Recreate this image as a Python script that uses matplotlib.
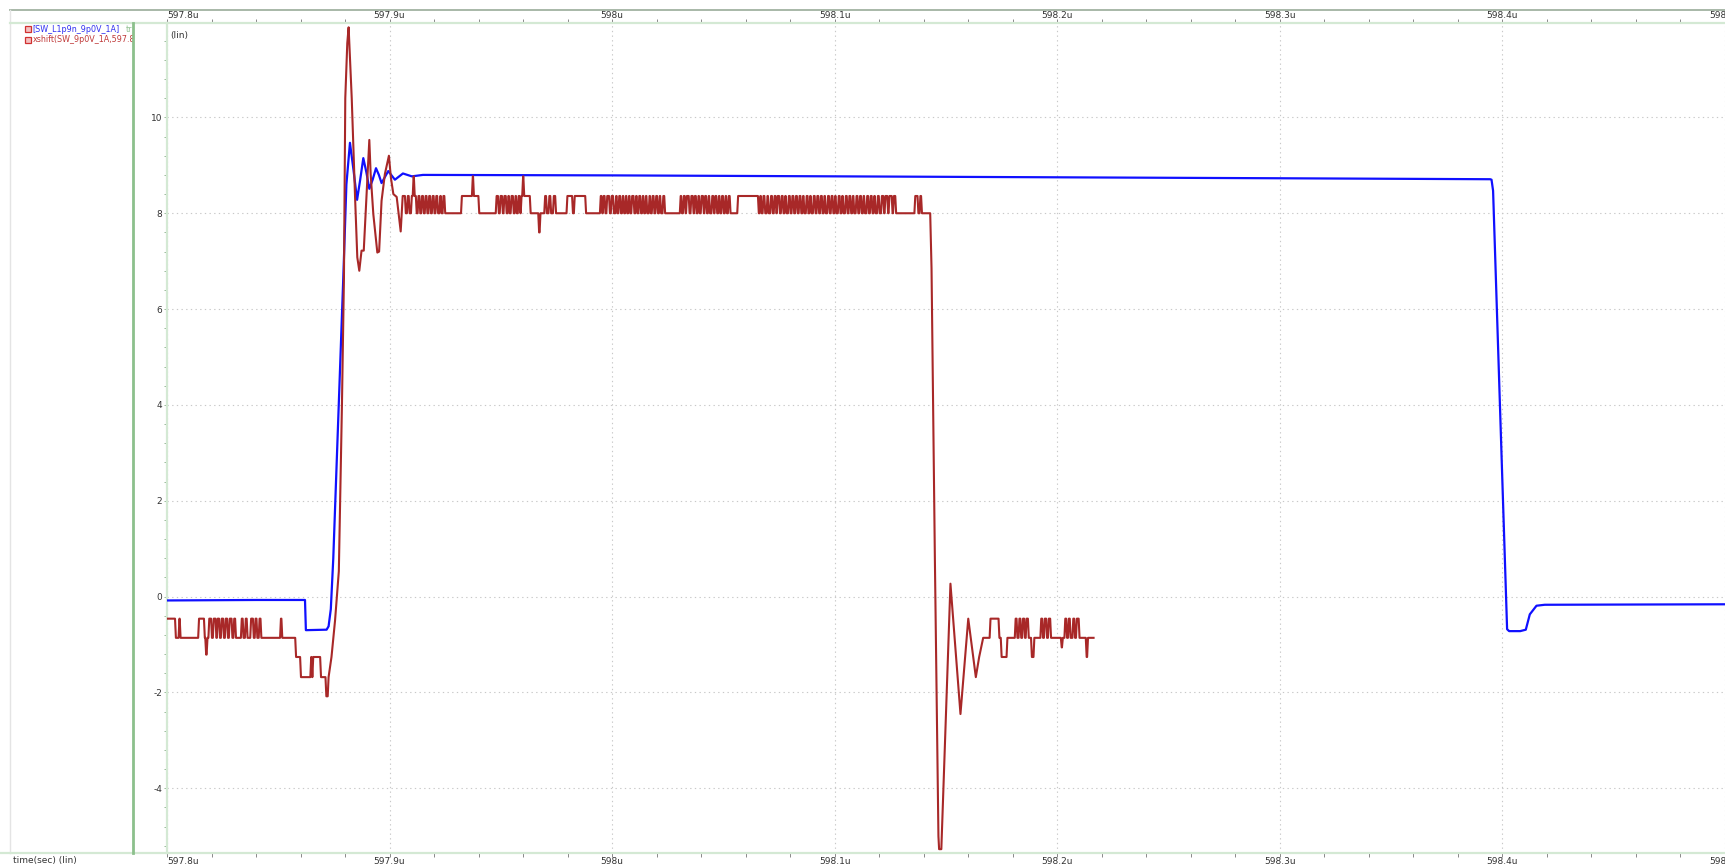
import numpy as np
import matplotlib
matplotlib.use('Agg')
import matplotlib.pyplot as plt
from matplotlib.ticker import MultipleLocator
from matplotlib.lines import Line2D

plt.rcParams['font.family'] = 'DejaVu Sans'
plt.rcParams['axes.unicode_minus'] = False

T0 = 597.8  # us, left edge of the window; all times below are ns after T0

# blue trace [SW_L1p9n_9p0V_1A]
blue_t = [0, 40, 62.0, 62.4, 71.7, 72.6, 73.6, 74.7, 79.2, 80.6, 82.2, 83.8, 85.4,
          86.8, 88.2, 89.6, 90.9, 92.4, 93.9, 95.2, 96.4, 99.4, 102.4, 106, 110, 115,
          200, 300, 400, 500, 594.5, 595.1, 595.8, 602.1, 603, 608, 610.5, 612.3,
          615.3, 619, 700]
blue_v = [-0.08, -0.07, -0.07, -0.70, -0.69, -0.62, -0.26, 0.79, 6.65, 8.6, 9.47, 8.9, 8.28,
          8.7, 9.15, 8.85, 8.51, 8.7, 8.94, 8.8, 8.63, 8.88, 8.70, 8.83, 8.77, 8.80,
          8.79, 8.77, 8.75, 8.73, 8.71, 8.70, 8.47, -0.68, -0.72, -0.72, -0.69, -0.37,
          -0.19, -0.17, -0.16]

# red trace xshift(SW_9p0V_1A,...): quantized levels
A, B, C, E, F, G = -0.46, -0.86, -1.21, -1.26, -1.68, -2.08
L, H, S, D = 8.0, 8.36, 8.77, 7.6

# before the edge: (time the level starts, level)
red_pre = [(0, A), (3.6, B), (5.2, A), (5.7, B), (14, A), (16.6, B), (17.2, C), (17.8, B),
           (18.6, A), (19.8, B), (20.6, A), (21.8, B), (22.4, A), (23.4, B), (24.2, A),
           (25.2, B), (26, A), (27, B), (27.8, A), (29, B), (29.8, A), (30.6, B),
           (33.2, A), (34.0, B), (35.0, A), (35.8, B), (37.4, A), (38.6, B), (39.4, A),
           (40.2, B), (41.2, A), (42.0, B), (50.8, A), (51.4, B), (57.6, E), (59.8, F),
           (64.4, E), (64.9, F), (65.3, E), (68.8, F), (71.2, G), (72.2, F)]

# rising edge and ringing (plain samples)
red_rise_t = [73.9, 75.5, 77.2, 78.6, 79.5, 80.1, 81.0, 81.6, 83.0, 84.5, 85.5, 86.4,
              87.4, 88.4, 90.9, 91.5, 92.7, 94.5, 95.3, 96.4, 97.9, 99.7, 100.6, 101.7,
              103.2, 105.0]
red_rise_v = [-1.26, -0.5, 0.53, 4.0, 6.65, 10.4, 11.55, 11.88, 10.4, 8.33, 7.08, 6.8,
              7.22, 7.22, 9.53, 8.82, 7.98, 7.18, 7.2, 8.26, 8.82, 9.2, 8.74, 8.4,
              8.34, 7.62]

# high plateau
red_mid = [(105.9, H), (106.9, L), (107.8, H), (108.6, L), (109.6, H), (110.4, S),
           (110.9, H), (111.8, L), (112.6, H), (113.4, L), (114.2, H), (115.0, L),
           (115.8, H), (116.6, L), (117.4, H), (118.2, L), (119.0, H), (119.8, L),
           (120.6, H), (121.4, L), (122.4, H), (123.0, L), (123.8, H), (124.6, L),
           (132.1, H), (137.0, S), (137.5, H), (139.9, L), (147.7, H), (148.7, L),
           (149.5, H), (150.5, L), (151.2, H), (152.2, L), (153.0, H), (153.6, L),
           (154.4, H), (155.4, L), (156.2, H), (156.8, L), (157.6, H), (158.4, L),
           (158.9, H), (159.6, S), (160.1, H), (163.0, L), (166.8, D), (167.4, L),
           (169.5, H), (170.3, L), (171.4, H), (172.2, L), (173.4, H), (174.4, L),
           (179.5, H), (182.0, L), (182.8, H), (187.9, L), (194.5, H), (195.2, L),
           (195.8, H), (196.6, L), (197.4, H), (198.6, L), (199.4, H), (200.4, L),
           (201.4, H), (202.0, L), (202.8, H), (203.6, L), (204.4, H), (205.0, L),
           (205.8, H), (206.4, L), (207.2, H), (207.8, L), (208.6, H), (209.6, L),
           (210.4, H), (211.0, L), (211.8, H), (212.6, L), (213.4, H), (214.0, L),
           (214.8, H), (215.4, L), (216.4, H), (217.0, L), (217.8, H), (218.6, L),
           (219.4, H), (220.2, L), (221.0, H), (221.6, L), (222.6, H), (223.4, L),
           (230.4, H), (231.0, L), (231.8, H), (232.6, L), (233.2, H), (234.4, L),
           (235.2, H), (236.2, L), (236.8, H), (237.6, L), (238.4, H), (239.0, L),
           (239.8, H), (240.8, L), (241.4, H), (242.2, L), (243.0, H), (243.6, L),
           (244.6, H), (245.4, L), (246.0, H), (246.8, L), (247.6, H), (248.2, L),
           (249.0, H), (249.8, L), (250.6, H), (251.2, L), (252.0, H), (252.8, L),
           (256.2, H), (265.5, L), (266.2, H), (266.8, L), (267.6, H), (268.4, L),
           (269.4, H), (270.0, L), (271.0, H), (271.8, L), (272.6, H), (273.4, L),
           (274.0, H), (275.0, L), (275.8, H), (276.6, L), (277.4, H), (278.0, L),
           (279.0, H), (279.8, L), (280.6, H), (281.4, L), (282.2, H), (283.0, L),
           (283.8, H), (284.6, L), (285.4, H), (286.0, L), (287.0, H), (287.8, L),
           (288.6, H), (289.2, L), (290.2, H), (291.0, L), (291.8, H), (292.6, L),
           (293.4, H), (294.2, L), (295.0, H), (295.6, L), (296.6, H), (297.4, L),
           (298.2, H), (299.0, L), (299.8, H), (300.4, L), (301.4, H), (302.2, L),
           (303.0, H), (303.6, L), (304.6, H), (305.4, L), (306.2, H), (307.0, L),
           (307.8, H), (308.4, L), (309.4, H), (310.2, L), (311.0, H), (311.8, L),
           (312.6, H), (313.2, L), (314.2, H), (315.0, L), (315.8, H), (316.6, L),
           (317.4, H), (318.0, L), (319.0, H), (319.8, L), (320.8, H), (321.8, L),
           (322.4, H), (323.6, L), (324.2, H), (325.6, L), (326.2, H), (327.2, L),
           (335.8, H), (337.2, L), (338.1, H), (338.8, L), (342.5, L)]

# falling edge and ringing (plain samples)
red_fall_t = [343.5, 345.0, 346.6, 346.9, 347.9, 352.0, 356.5, 360.0, 363.4, 364.9, 366.7]
red_fall_v = [6.85, 0.8, -5.0, -5.27, -5.27, 0.27, -2.45, -0.46, -1.68, -1.26, -0.86]

# low level after the edge
red_post = [(366.7, B), (369.6, A), (373.6, B), (374.6, E), (377.2, B), (380.9, A),
            (381.7, B), (382.6, A), (383.4, B), (384.2, A), (385.1, B), (385.8, A),
            (386.8, B), (388.2, E), (389.3, B), (392.4, A), (393.2, B), (394.0, A),
            (395.0, B), (395.8, A), (396.8, B), (401.6, -1.06), (402.1, B), (403.2, A),
            (404.0, B), (404.8, A), (405.6, B), (406.8, A), (407.6, B), (408.4, A),
            (409.6, B), (412.8, E), (413.4, B), (415.9, B)]


def steps(pairs, ramp=0.4):
    xs, ys = [pairs[0][0]], [pairs[0][1]]
    for (t0, v0), (t1, v1) in zip(pairs[:-1], pairs[1:]):
        xs += [t1, t1 + ramp]
        ys += [v0, v1]
    return xs, ys


pre_x, pre_y = steps(red_pre)
mid_x, mid_y = steps(red_mid)
post_x, post_y = steps(red_post)
red_x = pre_x + red_rise_t + mid_x + red_fall_t + post_x
red_y = pre_y + red_rise_v + mid_y + red_fall_v + post_y

W, Hh = 1725, 867
fig = plt.figure(figsize=(W / 100, Hh / 100), dpi=100)
ax = fig.add_axes([167 / W, 14 / Hh, (W - 167) / W, 830 / Hh])

ax.plot(T0 + np.array(blue_t) / 1000, blue_v, color='#1010ff', lw=1.6, zorder=3)
ax.plot(T0 + np.array(red_x) / 1000, red_y, color='#a82828', lw=1.5, zorder=4)

ax.set_xlim(597.8, 598.5)
ax.set_ylim(-5.35, 11.97)

ax.xaxis.set_major_locator(MultipleLocator(0.1))
ax.xaxis.set_minor_locator(MultipleLocator(0.02))
ax.yaxis.set_major_locator(MultipleLocator(2))
ax.yaxis.set_minor_locator(MultipleLocator(0.4))
ax.grid(which='major', color='#c8c8c8', lw=0.8, ls=(0, (1.2, 3)))
ax.tick_params(axis='x', which='both', top=True, bottom=True, labelbottom=False,
               labeltop=False, direction='out', length=3, width=0.7, color='#888888')
ax.tick_params(axis='y', which='both', direction='out', length=2, width=0.7,
               color='#9aba9a', labelsize=6.5, labelcolor='#333333', pad=1.5)
ax.yaxis.set_major_formatter(lambda v, p: f'{v:g}')

for side in ['left', 'top', 'bottom']:
    ax.spines[side].set_color('#d4e9d4')
    ax.spines[side].set_linewidth(1.6)
ax.spines['right'].set_visible(False)

ax.text(0.002, 0.99, '(lin)', transform=ax.transAxes, fontsize=6.5, color='#333333',
        va='top', ha='left')

# time labels on top and bottom
for v in ax.get_xticks():
    if v < 597.79 or v > 598.51:
        continue
    ha = 'left' if abs(v - 597.8) < 1e-6 else 'center'
    lab = f'{v:.1f}'.rstrip('0').rstrip('.') + 'u'
    xf = (167 + (v - 597.8) / 0.7 * (W - 167)) / W
    fig.text(xf, 1 - 15 / Hh, lab, ha=ha, va='center', fontsize=6.5, color='#333333')
    fig.text(xf, 1 - 861 / Hh, lab, ha=ha, va='center', fontsize=6.5, color='#333333')


def fl(x0, y0, x1, y1, color, lw):
    fig.add_artist(Line2D([x0 / W, x1 / W], [1 - y0 / Hh, 1 - y1 / Hh], color=color,
                          lw=lw, transform=fig.transFigure))


fl(10, 9.5, W, 9.5, '#a8b8a8', 1.4)
fl(10, 9.5, 10, 853, '#e4e4e4', 1.0)
fl(10, 23, 167, 23, '#d4e9d4', 1.6)
fl(0, 853, 167, 853, '#d4e9d4', 1.6)
fl(133, 23, 133, 853, '#8cc08c', 2.0)

# signal list panel
leg = fig.add_axes([0, 14 / Hh, 133 / W, 830 / Hh])
leg.set_xlim(0, 133)
leg.set_ylim(853, 23)
leg.axis('off')
for yy in [29.5, 40]:
    leg.plot([28], [yy], marker='s', ms=4.2, mfc='#f4c0c0', mec='#d03030', mew=0.9,
             clip_on=False)
leg.text(32.5, 29.5, '[SW_L1p9n_9p0V_1A]', color='#3030f0', fontsize=5.8, va='center',
         clip_on=True)
leg.text(125.5, 29.5, 'tr', color='#90c090', fontsize=5.8, va='center', clip_on=True)
leg.text(32.5, 40, 'xshift(SW_9p0V_1A,597.8u)', color='#c03a3a', fontsize=5.8, va='center',
         clip_on=True)

fig.text(13 / W, 1 - 861 / Hh, 'time(sec) (lin)', fontsize=6.5, color='#333333',
         va='center', ha='left')

fig.savefig('out.png', dpi=100)
